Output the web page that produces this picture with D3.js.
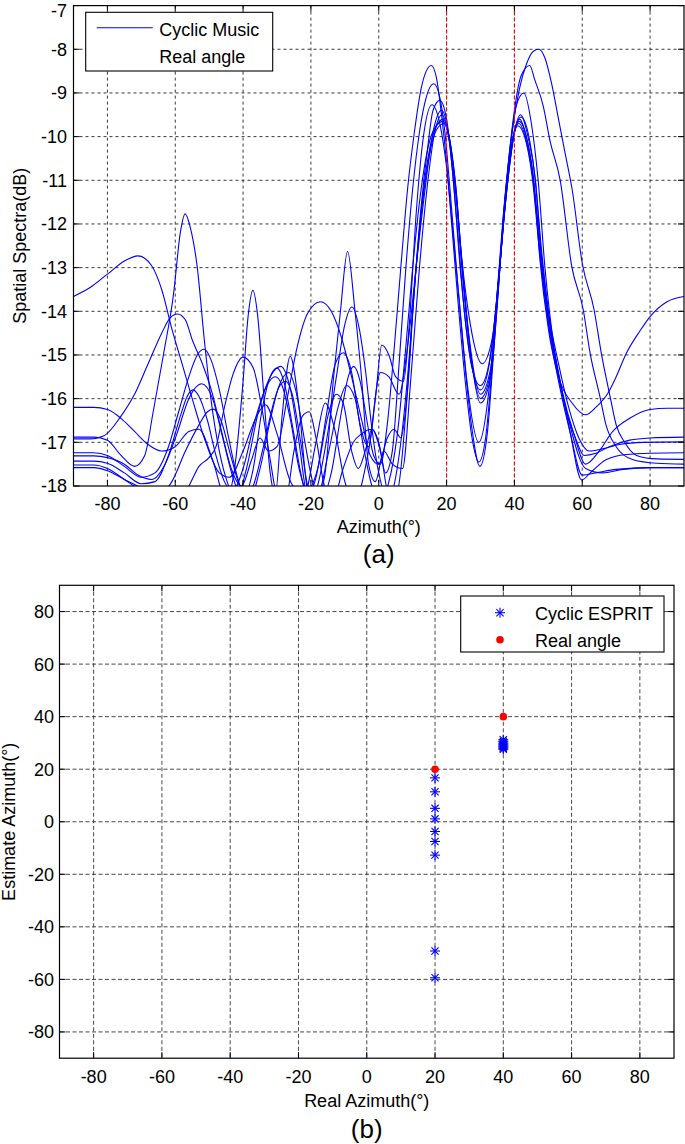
<!DOCTYPE html>
<html><head><meta charset="utf-8">
<script src="https://cdn.jsdelivr.net/npm/d3@7"></script>
<style>
html,body{margin:0;padding:0;background:#fff;}
svg{display:block;}
text{font-family:"Liberation Sans",Arial,Helvetica,sans-serif;fill:#000;}
</style></head>
<body>
<svg id="chart" width="685" height="1144"></svg>
<script>
// ---------- DATA: panel (a) ----------
const xTicksA = [-80,-60,-40,-20,0,20,40,60,80];
const yTicksA = [-7,-8,-9,-10,-11,-12,-13,-14,-15,-16,-17,-18];
const realAngles = [20, 40];
const curve1 = [[-90,-13.66],[-85,-13.45],[-80,-13.15],[-75,-12.85],[-71,-12.73],[-67,-12.95],[-64,-13.5],[-61,-14.4],[-58,-15.2],[-55,-16.0],[-51,-17.0],[-47,-17.7],[-44,-17.8],[-40,-17.2],[-36,-16.4],[-33.4,-16.14],[-30,-16.8],[-26,-17.9],[-22,-18.2],[-18.5,-17.0],[-15.8,-16.1],[-13,-16.7],[-10,-17.9],[-7,-18.3],[-3,-17.2],[0.5,-15.4],[3,-15.5],[6,-15.9],[8.5,-14.8],[11,-13.0],[13.5,-11.3],[16,-9.9],[18.5,-9.4],[20.5,-9.9],[22,-11.0],[24,-13.0],[26.5,-14.8],[30,-15.8],[33,-15.0],[35.3,-13.3],[37.5,-11.4],[39.5,-10.1],[41.5,-9.6],[43.5,-10.0],[45.7,-11.0],[47.5,-12.8],[50,-14.4],[53,-15.5],[57,-16.1],[61,-16.37],[64,-16.2],[67.6,-15.87],[70,-15.5],[73,-14.96],[77,-14.45],[80,-14.12],[85,-13.78],[90,-13.66]];
const curve2 = [[-90,-16.2],[-84,-16.2],[-80,-16.25],[-76,-16.45],[-72,-16.75],[-68,-17.05],[-64,-17.2],[-60,-17.1],[-56,-16.75],[-53,-16.7],[-49,-17.4],[-45,-18.3],[-42.5,-17.6],[-40,-15.6],[-38.5,-14.1],[-37.1,-13.52],[-35.7,-14.1],[-34,-15.8],[-32,-17.7],[-30.5,-18.2],[-28.5,-16.4],[-26.1,-15.03],[-23.5,-16.2],[-21,-18.1],[-19,-18.4],[-16,-17.8],[-13.3,-15.5],[-11.3,-14.0],[-9.2,-12.63],[-7,-14.0],[-5.1,-15.5],[-3,-17.5],[-1,-17.9],[1.5,-17.2],[4,-17.5],[7,-17.6],[9.5,-15.5],[12,-13.0],[14.5,-11.0],[16.5,-9.9],[18.7,-9.5],[20.7,-10.0],[22.5,-11.0],[24.5,-12.8],[27,-14.3],[30.5,-15.2],[33.5,-14.6],[35.5,-13.1],[37.8,-11.2],[40,-9.9],[41.8,-9.5],[44,-10.0],[46.2,-11.0],[48,-12.8],[51,-14.6],[54,-15.8],[57.5,-16.8],[61,-17.5],[65,-17.2],[69,-16.75],[74,-16.45],[80,-16.25],[85,-16.22],[90,-16.22]];
const curve3 = [[-90,-16.88],[-84,-16.88],[-80,-16.95],[-76,-17.3],[-72,-17.55],[-69,-17.3],[-66.5,-16.3],[-63.5,-15.0],[-60.5,-13.6],[-58.5,-12.2],[-57.1,-11.77],[-55.5,-12.1],[-53.5,-13.0],[-51.5,-14.6],[-49.5,-16.0],[-47,-17.2],[-44.7,-17.9],[-42,-18.3],[-39,-17.6],[-35.5,-16.3],[-32,-15.5],[-28.9,-15.26],[-26,-15.8],[-23.5,-17.0],[-21,-18.2],[-18.5,-17.8],[-15.5,-16.4],[-12.8,-15.2],[-10.4,-14.95],[-8,-15.4],[-5.5,-16.6],[-3,-17.1],[-1,-16.0],[0.9,-14.77],[3,-15.0],[5,-15.5],[7.3,-15.6],[9,-14.3],[11,-11.8],[13,-10.1],[15.7,-9.27],[18,-9.7],[20,-10.7],[22,-12.3],[24,-14.0],[26,-15.6],[29.5,-17.0],[32.5,-15.8],[34.5,-14.0],[36.5,-12.0],[38.5,-10.4],[40.5,-9.3],[42.8,-9.0],[45,-9.7],[47,-11.0],[49,-13.0],[52,-15.0],[55,-16.2],[58,-16.9],[60.5,-17.3],[64,-17.25],[68,-17.1],[74,-16.95],[80,-16.9],[90,-16.88]];
const curve4 = [[-90,-16.92],[-85,-16.92],[-81,-16.85],[-76,-16.4],[-72,-15.9],[-68,-15.2],[-64,-14.5],[-61.5,-14.15],[-59.3,-14.06],[-57,-14.2],[-55,-14.65],[-52,-15.2],[-49,-15.9],[-46.5,-16.7],[-43.5,-17.6],[-40.5,-18.0],[-37.5,-17.4],[-35,-16.9],[-32.5,-17.2],[-30,-17.1],[-27,-16.0],[-24,-14.8],[-21,-14.05],[-17.2,-13.78],[-14,-14.0],[-11,-14.6],[-8,-15.5],[-5,-16.5],[-2.5,-17.3],[0,-17.5],[2.5,-16.9],[4.5,-16.7],[6.5,-16.9],[8.5,-15.8],[10.5,-13.5],[12.5,-11.6],[14.5,-10.2],[16,-9.4],[18,-9.17],[20,-9.6],[21.5,-10.6],[23.5,-12.4],[25.5,-14.2],[27.5,-15.3],[30,-15.7],[32.5,-15.2],[34.5,-14.0],[36.5,-12.2],[38.5,-10.6],[40,-9.85],[41.5,-9.65],[43.5,-10.0],[45.5,-10.9],[47.5,-12.4],[50,-14.0],[53,-15.2],[56,-16.2],[59,-16.9],[62,-17.2],[66,-17.15],[71,-17.05],[78,-17.0],[90,-16.99]];
const curve5 = [[-90,-17.24],[-84,-17.24],[-80,-17.3],[-75,-17.55],[-70,-17.8],[-66,-17.7],[-62,-17.1],[-59,-16.3],[-56,-15.5],[-53.5,-15.0],[-51.5,-14.87],[-49.5,-15.1],[-47,-15.8],[-44.5,-16.8],[-42,-17.7],[-39.5,-18.2],[-37,-17.6],[-34.5,-16.3],[-32,-15.5],[-30,-15.3],[-28,-15.6],[-25.5,-16.6],[-23,-17.7],[-21,-18.3],[-18.5,-18.1],[-15.5,-17.0],[-12.5,-15.5],[-10,-14.3],[-7.9,-13.9],[-6,-14.3],[-4,-15.3],[-2,-16.7],[0,-17.7],[2,-18.2],[4,-18.1],[6,-17.3],[8.5,-15.5],[10.5,-13.5],[12.5,-11.7],[14.5,-10.5],[16.5,-9.85],[19,-9.6],[21,-10.1],[22.8,-11.2],[24.5,-12.9],[26.5,-14.5],[30,-15.9],[33,-15.3],[35,-13.6],[37,-11.8],[39,-10.4],[40.5,-9.75],[42,-9.55],[44,-9.9],[46,-10.9],[48,-12.6],[50.5,-14.3],[53.5,-15.6],[56.5,-16.8],[59.8,-17.86],[63,-17.65],[67,-17.4],[73,-17.28],[80,-17.25],[90,-17.24]];
const curve6 = [[-90,-17.31],[-84,-17.31],[-80,-17.35],[-75,-17.5],[-71,-17.75],[-67,-17.85],[-63,-17.5],[-59.5,-16.8],[-56,-16.0],[-52.2,-15.66],[-49,-16.0],[-46,-16.9],[-43,-17.8],[-40,-18.3],[-37,-18.0],[-34,-17.1],[-31,-16.1],[-28.5,-15.55],[-26.5,-15.4],[-24.5,-15.8],[-22,-16.9],[-19.5,-17.9],[-17,-18.3],[-14,-17.7],[-11,-16.3],[-9,-15.5],[-7.4,-15.26],[-5.5,-15.6],[-3.5,-16.5],[-1.5,-17.3],[0.5,-17.5],[2.5,-16.6],[4.5,-14.9],[6.5,-13.0],[8.5,-11.2],[10.5,-9.9],[12.5,-8.9],[14,-8.5],[15.5,-8.37],[17,-8.65],[18.5,-9.5],[20,-10.6],[21.5,-12.0],[23.5,-13.9],[25.5,-15.6],[27.5,-16.9],[29.5,-17.45],[31.5,-16.9],[33.5,-15.2],[35.5,-13.1],[37.5,-11.2],[39.5,-9.8],[41.5,-8.9],[43.5,-8.35],[45.5,-8.05],[47.2,-8.0],[49,-8.2],[51,-8.8],[53,-9.6],[55,-10.4],[57,-11.2],[60,-12.9],[63.5,-13.97],[65.6,-14.95],[68.2,-15.95],[70,-16.6],[72.5,-17.0],[76,-17.3],[82,-17.38],[90,-17.39]];
const curve7 = [[-90,-17.43],[-84,-17.43],[-80,-17.48],[-75,-17.7],[-70,-17.95],[-66,-17.9],[-62,-17.3],[-58.5,-16.4],[-56.5,-15.95],[-54.8,-15.8],[-53,-15.95],[-50.5,-16.5],[-48,-17.3],[-45.5,-17.9],[-43,-18.1],[-40,-17.6],[-36.5,-16.5],[-33,-15.7],[-30.5,-15.5],[-28.5,-15.7],[-26,-16.5],[-23.5,-17.6],[-21,-18.1],[-18,-17.6],[-15,-16.4],[-12.5,-15.9],[-10.5,-16.1],[-8,-17.2],[-6,-17.6],[-4,-17.2],[-2,-16.7],[0,-17.0],[2,-17.7],[4,-17.2],[6,-15.2],[8,-13.0],[10,-11.2],[12,-9.9],[14,-9.1],[16.2,-8.79],[18,-9.1],[19.5,-9.9],[21,-11.2],[23,-13.1],[25,-14.9],[27.5,-16.7],[29.8,-17.55],[32,-16.8],[34,-14.8],[36,-12.7],[38,-10.8],[40,-9.4],[42,-8.6],[44.5,-8.37],[46,-8.7],[48.5,-9.3],[50.5,-10.1],[53.5,-11.0],[56.9,-12.97],[60.3,-13.97],[62.3,-14.95],[65.2,-15.95],[67,-16.6],[70,-17.1],[75,-17.4],[82,-17.48],[90,-17.5]];
const curve8 = [[-90,-17.52],[-84,-17.52],[-80,-17.6],[-75,-17.85],[-70,-18.1],[-65,-18.2],[-61,-17.9],[-57,-17.2],[-53,-16.6],[-50.5,-16.3],[-48.7,-16.24],[-46.5,-16.5],[-44,-17.2],[-41,-18.0],[-38,-18.3],[-35,-17.6],[-32,-16.5],[-29.5,-15.75],[-27.5,-15.6],[-25.5,-15.9],[-23,-17.0],[-20.5,-18.1],[-18,-18.2],[-15,-17.3],[-12,-16.2],[-9.5,-15.7],[-7,-16.0],[-4.5,-17.1],[-2,-18.0],[0.5,-18.3],[3,-17.9],[5.5,-16.8],[8,-14.8],[10,-13.0],[12.5,-11.2],[15,-10.1],[17,-9.75],[19,-9.65],[21,-10.2],[22.7,-11.3],[24.5,-13.0],[26.5,-14.6],[30,-16.0],[33,-15.4],[35,-13.7],[37,-11.7],[39,-10.3],[41.3,-9.7],[43.5,-10.1],[45.5,-11.0],[47.5,-12.6],[50,-14.2],[53,-15.5],[56,-16.5],[61,-17.6],[66,-17.7],[72,-17.62],[80,-17.58],[90,-17.58]];
const curve9 = [[-90,-17.58],[-84,-17.58],[-80,-17.65],[-75,-17.85],[-70,-18.05],[-65,-18.3],[-60,-18.4],[-56,-18.0],[-53,-17.55],[-50.2,-17.36],[-48,-17.1],[-45.5,-16.2],[-43,-15.45],[-40,-15.05],[-37,-15.3],[-34.5,-16.2],[-32,-17.4],[-30,-18.2],[-27.5,-18.3],[-25,-17.2],[-22.5,-16.4],[-20.5,-16.3],[-18.5,-16.9],[-16,-18.0],[-13.5,-18.3],[-10.5,-17.6],[-7.5,-17.0],[-5,-16.8],[-2,-16.7],[0.5,-17.2],[3,-18.2],[5.5,-18.1],[8,-16.3],[10,-14.0],[12.5,-11.8],[15,-10.4],[17,-9.85],[19.2,-9.7],[21,-10.1],[23,-11.5],[25,-13.3],[27,-14.9],[30,-16.1],[33,-15.5],[35,-13.8],[37,-11.6],[39,-10.3],[41,-9.75],[43,-10.0],[45.2,-10.9],[47.5,-12.7],[50,-14.3],[53,-15.6],[56.5,-16.8],[60,-17.75],[64,-17.7],[70,-17.62],[80,-17.58],[90,-17.58]];
const musicCurves = [curve1, curve2, curve3, curve4, curve5, curve6, curve7, curve8, curve9];

// ---------- DATA: panel (b) ----------
const xTicksB = [-80,-60,-40,-20,0,20,40,60,80];
const yTicksB = [80,60,40,20,0,-20,-40,-60,-80];
const espritReal = [20,20,20,20,20,20,20,20,20,40,40,40,40,40,40,40,40,40];
const espritEst  = [16.7,11.4,5.1,1.1,-3.7,-7.5,-12.7,-49.2,-59.4,31.2,30.6,30.0,29.6,29.2,28.8,28.4,28.0,27.6];
const realX = [20, 40];
const realY = [20, 40];

// ---------- DRAW ----------
const svg = d3.select("#chart");
const FS = 18;

function axesFrame(g, x, y, xt, yt, dash, gridColor) {
  const [x0, x1] = x.range(), [y0, y1] = y.range();
  g.append("rect").attr("x", x0).attr("y", y1).attr("width", x1 - x0).attr("height", y0 - y1).attr("fill", "#fff");
  g.selectAll(null).data(xt).enter().append("line")
    .attr("x1", d => x(d)).attr("x2", d => x(d)).attr("y1", y1).attr("y2", y0)
    .attr("stroke", gridColor).attr("stroke-width", 0.9).attr("stroke-dasharray", dash);
  g.selectAll(null).data(yt).enter().append("line")
    .attr("y1", d => y(d)).attr("y2", d => y(d)).attr("x1", x0).attr("x2", x1)
    .attr("stroke", gridColor).attr("stroke-width", 0.9).attr("stroke-dasharray", dash);
}
function axesBox(g, x, y, xt, yt, tl) {
  const [x0, x1] = x.range(), [y0, y1] = y.range();
  xt.forEach(d => {
    g.append("line").attr("x1", x(d)).attr("x2", x(d)).attr("y1", y0).attr("y2", y0 - tl).attr("stroke", "#000");
    g.append("line").attr("x1", x(d)).attr("x2", x(d)).attr("y1", y1).attr("y2", y1 + tl).attr("stroke", "#000");
  });
  yt.forEach(d => {
    g.append("line").attr("y1", y(d)).attr("y2", y(d)).attr("x1", x0).attr("x2", x0 + tl).attr("stroke", "#000");
    g.append("line").attr("y1", y(d)).attr("y2", y(d)).attr("x1", x1).attr("x2", x1 - tl).attr("stroke", "#000");
  });
  g.append("rect").attr("x", x0).attr("y", y1).attr("width", x1 - x0).attr("height", y0 - y1)
    .attr("fill", "none").attr("stroke", "#000").attr("stroke-width", 1.2);
}

// ---- Panel (a) ----
const xA = d3.scaleLinear().domain([-90, 90]).range([73.5, 684]);
const yA = d3.scaleLinear().domain([-18, -7]).range([486, 5.6]);
const gA = svg.append("g");
axesFrame(gA, xA, yA, xTicksA, yTicksA.filter(v => v > -18 && v < -7), "3,3", "#222");
gA.append("clipPath").attr("id", "clipA").append("rect")
  .attr("x", xA(-90)).attr("y", yA(-7)).attr("width", xA(90) - xA(-90)).attr("height", yA(-18) - yA(-7));
const line = d3.line().x(d => xA(d[0])).y(d => yA(d[1])).curve(d3.curveMonotoneX);
gA.append("g").attr("clip-path", "url(#clipA)").selectAll("path").data(musicCurves).enter().append("path")
  .attr("d", line).attr("fill", "none").attr("stroke", "#0000ff").attr("stroke-width", 1.1);
gA.selectAll(null).data(realAngles).enter().append("line")
  .attr("x1", d => xA(d)).attr("x2", d => xA(d)).attr("y1", yA(-7)).attr("y2", yA(-18))
  .attr("stroke", "#ff0000").attr("stroke-width", 1).attr("stroke-dasharray", "4,2");
axesBox(gA, xA, yA, xTicksA, yTicksA, 6);
gA.selectAll(null).data(yTicksA).enter().append("text")
  .attr("x", 67).attr("y", d => Math.max(yA(d), 10.5)).attr("dy", "0.36em").attr("text-anchor", "end")
  .attr("font-size", FS).text(d => d);
gA.selectAll(null).data(xTicksA).enter().append("text")
  .attr("x", d => xA(d)).attr("y", 509.5).attr("text-anchor", "middle")
  .attr("font-size", FS).text(d => d);
gA.append("text").attr("x", xA(0)).attr("y", 533).attr("text-anchor", "middle").attr("font-size", FS).text("Azimuth(°)");
gA.append("text").attr("transform", `translate(26,${(yA(-7) + yA(-18)) / 2}) rotate(-90)`)
  .attr("text-anchor", "middle").attr("font-size", FS).text("Spatial Spectra(dB)");
gA.append("text").attr("x", xA(0)).attr("y", 563).attr("text-anchor", "middle")
  .attr("font-family", "Liberation Serif, Times New Roman, serif").attr("font-size", 26).text("(a)");
const lgA = gA.append("g");
lgA.append("rect").attr("x", 85.7).attr("y", 12.3).attr("width", 187).attr("height", 58.7)
  .attr("fill", "#fff").attr("stroke", "#000").attr("stroke-width", 1.1);
lgA.append("line").attr("x1", 96.7).attr("x2", 152.7).attr("y1", 27.7).attr("y2", 27.7).attr("stroke", "#0000ff").attr("stroke-width", 1.1);
lgA.append("text").attr("x", 159.3).attr("y", 35.6).attr("font-size", FS).text("Cyclic Music");
lgA.append("text").attr("x", 159.3).attr("y", 63.3).attr("font-size", FS).text("Real angle");

// ---- Panel (b) ----
const xB = d3.scaleLinear().domain([-90, 90]).range([59.5, 674]);
const yB = d3.scaleLinear().domain([-90, 90]).range([1058.2, 585.3]);
const gB = svg.append("g");
axesFrame(gB, xB, yB, xTicksB, yTicksB, "4,2.5", "#333");
const pts = espritReal.map((r, i) => [r, espritEst[i]]);
const star = gB.append("g").selectAll("g").data(pts).enter().append("g")
  .attr("transform", d => `translate(${xB(d[0])},${yB(d[1])})`)
  .attr("stroke", "#0000ff").attr("stroke-width", 1.1);
star.append("line").attr("x1", -5).attr("x2", 5).attr("y1", 0).attr("y2", 0);
star.append("line").attr("x1", 0).attr("x2", 0).attr("y1", -5).attr("y2", 5);
star.append("line").attr("x1", -3.6).attr("x2", 3.6).attr("y1", -3.6).attr("y2", 3.6);
star.append("line").attr("x1", -3.6).attr("x2", 3.6).attr("y1", 3.6).attr("y2", -3.6);
gB.selectAll(null).data(realX).enter().append("circle")
  .attr("cx", d => xB(d)).attr("cy", (d, i) => yB(realY[i])).attr("r", 3.8).attr("fill", "#ff0000");
axesBox(gB, xB, yB, xTicksB, yTicksB, 6);
gB.selectAll(null).data(yTicksB).enter().append("text")
  .attr("x", 54).attr("y", d => yB(d)).attr("dy", "0.36em").attr("text-anchor", "end")
  .attr("font-size", FS).text(d => d);
gB.selectAll(null).data(xTicksB).enter().append("text")
  .attr("x", d => xB(d)).attr("y", 1083).attr("text-anchor", "middle")
  .attr("font-size", FS).text(d => d);
gB.append("text").attr("x", xB(0)).attr("y", 1107).attr("text-anchor", "middle").attr("font-size", FS).text("Real Azimuth(°)");
gB.append("text").attr("transform", `translate(15,${yB(0)}) rotate(-90)`)
  .attr("text-anchor", "middle").attr("font-size", FS).text("Estimate Azimuth(°)");
gB.append("text").attr("x", xB(0)).attr("y", 1138).attr("text-anchor", "middle")
  .attr("font-family", "Liberation Serif, Times New Roman, serif").attr("font-size", 26).text("(b)");
const lgB = gB.append("g");
lgB.append("rect").attr("x", 460.7).attr("y", 596).attr("width", 203.3).attr("height", 56)
  .attr("fill", "#fff").attr("stroke", "#000").attr("stroke-width", 1.1);
const ls = lgB.append("g").attr("transform", "translate(500,612.7)").attr("stroke", "#0000ff").attr("stroke-width", 1.1);
ls.append("line").attr("x1", -5).attr("x2", 5).attr("y1", 0).attr("y2", 0);
ls.append("line").attr("x1", 0).attr("x2", 0).attr("y1", -5).attr("y2", 5);
ls.append("line").attr("x1", -3.6).attr("x2", 3.6).attr("y1", -3.6).attr("y2", 3.6);
ls.append("line").attr("x1", -3.6).attr("x2", 3.6).attr("y1", 3.6).attr("y2", -3.6);
lgB.append("circle").attr("cx", 500).attr("cy", 639.7).attr("r", 3.8).attr("fill", "#ff0000");
lgB.append("text").attr("x", 535).attr("y", 620).attr("font-size", FS).text("Cyclic ESPRIT");
lgB.append("text").attr("x", 535).attr("y", 646.7).attr("font-size", FS).text("Real angle");
</script>
</body></html>
